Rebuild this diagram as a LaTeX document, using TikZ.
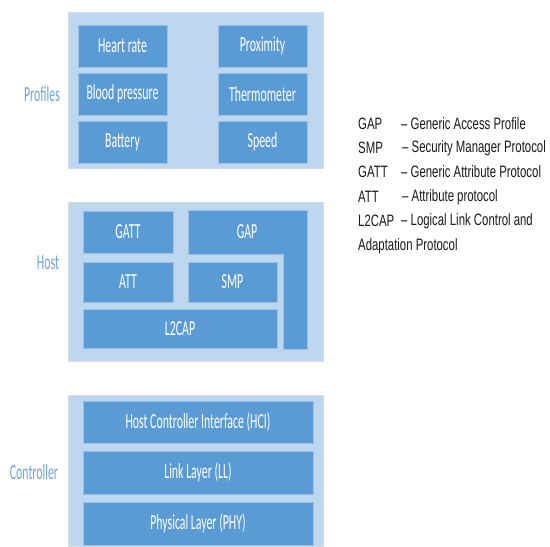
\documentclass[tikz,border=0pt]{standalone}
\usepackage{fontspec}
\newfontfamily\boxfont[FakeStretch=0.55]{Carlito}
\newfontfamily\legfont[FakeStretch=0.69]{Liberation Sans}
\definecolor{innerblue}{HTML}{5B9BD5}
\definecolor{innerline}{HTML}{9CC0E6}
\definecolor{outerblue}{HTML}{BDD7EE}
\definecolor{outerline}{HTML}{D4DCE4}
\definecolor{labelblue}{HTML}{6FA3DA}
\definecolor{legtext}{HTML}{1A1A1A}
\begin{document}
\begin{tikzpicture}[x=1pt,y=-1pt,
  outer/.style={fill=outerblue, draw=outerline, line width=0.8pt, inner sep=0pt},
  inner/.style={fill=innerblue, draw=innerline, line width=0.7pt, text=white, inner sep=0pt,
     font=\boxfont\fontsize{21.5}{24}\selectfont},
  layerlabel/.style={text=labelblue, inner sep=0pt, font=\boxfont\fontsize{21.5}{24}\selectfont},
  legabbr/.style={anchor=west, inner sep=0pt, text=legtext, font=\legfont\fontsize{16.5}{19}\selectfont},
  legdesc/.style={anchor=west, inner sep=0pt, text=legtext, font=\legfont\fontsize{16.5}{19}\selectfont}]
\useasboundingbox (0,0) rectangle (550,547);
\fill[white] (0,0) rectangle (550,547);

% outer boxes
\node[outer, minimum width=255pt, minimum height=156pt] (profbox) at (195.5,90) {};
\node[outer, minimum width=255pt, minimum height=159pt] (hostbox) at (195.5,281.5) {};
\node[outer, minimum width=255pt, minimum height=151pt] (ctrlbox) at (195.5,470.5) {};

% layer labels
\node[layerlabel] (proflabel) at (42,94) {Profiles};
\node[layerlabel] (hostlabel) at (48,263) {Host};
\node[layerlabel] (ctrllabel) at (34,472) {Controller};

% profiles
\node[inner, minimum width=89pt, minimum height=42pt] (hr) at (122.5,46) {Heart rate};
\node[inner, minimum width=89pt, minimum height=42pt] (bp) at (122.5,94) {Blood pressure};
\node[inner, minimum width=89pt, minimum height=42pt] (bat) at (122.5,142) {Battery};
\node[inner, minimum width=89pt, minimum height=42pt] (prox) at (262.5,46) {Proximity};
\node[inner, minimum width=89pt, minimum height=42pt] (therm) at (262.5,94) {Thermometer};
\node[inner, minimum width=89pt, minimum height=42pt] (speed) at (262.5,142) {Speed};

% host
\filldraw[fill=innerblue, draw=innerline, line width=0.7pt]
  (188,210) -- (307,210) -- (307,349) -- (283,349) -- (283,254) -- (188,254) -- cycle;
\node[inner, fill=none, draw=none] (gap) at (247,232) {GAP};
\node[inner, minimum width=90pt, minimum height=42pt] (gatt) at (128,232) {GATT};
\node[inner, minimum width=90pt, minimum height=40pt] (att) at (128,282) {ATT};
\node[inner, minimum width=89pt, minimum height=40pt] (smp) at (232.5,282) {SMP};
\node[inner, minimum width=194pt, minimum height=39pt] (l2cap) at (180,328.5) {L2CAP};

% controller
\node[inner, minimum width=230pt, minimum height=42pt] (hci) at (198,422) {Host Controller Interface (HCI)};
\node[inner, minimum width=230pt, minimum height=43pt] (ll) at (198,472.5) {Link Layer (LL)};
\node[inner, minimum width=230pt, minimum height=43pt] (phy) at (198,523.5) {Physical Layer (PHY)};

% legend
\node[legabbr] (a1) at (358,124) {GAP};
\node[legdesc] (d1) at (401,124) {– Generic Access Profile};
\node[legabbr] (a2) at (358,148) {SMP};
\node[legdesc] (d2) at (402,148) {– Security Manager Protocol};
\node[legabbr] (a3) at (358,172) {GATT};
\node[legdesc] (d3) at (401,172) {– Generic Attribute Protocol};
\node[legabbr] (a4) at (358,197) {ATT};
\node[legdesc] (d4) at (402,197) {– Attribute protocol};
\node[legabbr] (a5) at (358,221) {L2CAP};
\node[legdesc] (d5) at (401,221) {– Logical Link Control and};
\node[legabbr] (a6) at (358,246) {Adaptation Protocol};
\end{tikzpicture}
\end{document}
